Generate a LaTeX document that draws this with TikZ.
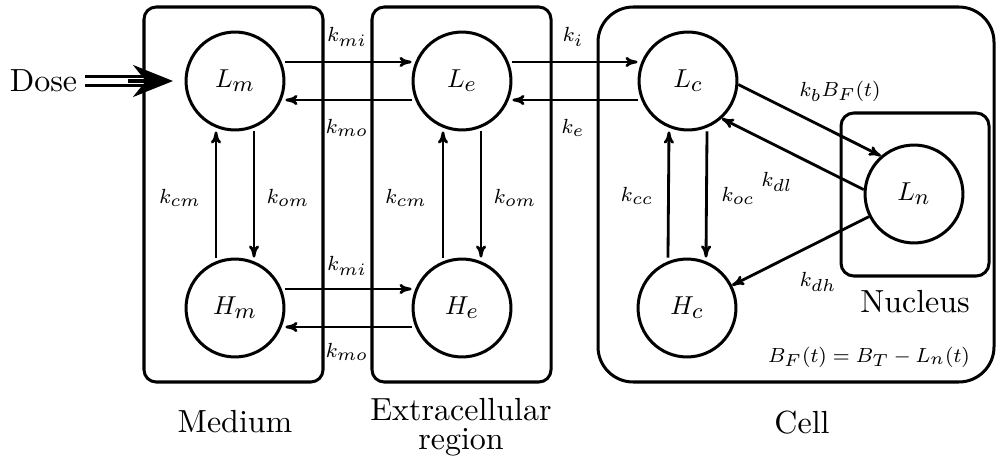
\RequirePackage{fix-cm}
\documentclass[tikz,border=0pt]{standalone}
\usepackage{graphicx}
\usetikzlibrary{arrows.meta}
\DeclareMathSizes{8}{8}{6.8}{5}
\DeclareMathSizes{10}{10}{8.6}{6}
\newcommand\ratelabel[1]{\scalebox{0.8}{\fontsize{8}{9}\selectfont$#1$}}
\newcommand\complabel[1]{\scalebox{0.81}{\fontsize{10}{12}\selectfont$#1$}}
\begin{document}
\begin{tikzpicture}[x=0.3125pt,y=-0.3125pt,
  comp/.style={circle,draw,line width=0.94pt,minimum size=30.6pt,inner sep=0pt},
  region/.style={draw,line width=0.94pt,rounded corners=3.8pt},
  flow/.style={line width=0.88pt,-{To[length=3.8pt,width=3.2pt]}},
  rate/.style={inner sep=0pt},
  title/.style={font=\fontsize{10}{9.1}\selectfont,inner sep=0pt,align=center}]
\useasboundingbox (0,0) rectangle (997,458);
\def\off{5.94pt}
% regions
\draw[region] (144,7) rectangle (323,382);
\draw[region] (372,7) rectangle (551,382);
\draw[region,rounded corners=11pt] (598,7) rectangle (994,382);
\draw[region,rounded corners=4pt] (841,113) rectangle (989,276);
% compartments
\node[comp] (Lm) at (235,81) {\complabel{L_m}};
\node[comp] (Le) at (462,81) {\complabel{L_e}};
\node[comp] (Lc) at (688,81) {\complabel{L_c}};
\node[comp] (Hm) at (235,308) {\complabel{H_m}};
\node[comp] (He) at (462,308) {\complabel{H_e}};
\node[comp] (Hc) at (687,308) {\complabel{H_c}};
\node[comp] (Ln) at (914,194) {\complabel{L_n}};
% horizontal flows
\draw[flow] ([yshift=\off]Lm.east) -- ([yshift=\off]Le.west);
\draw[flow] ([yshift=-\off]Le.west) -- ([yshift=-\off]Lm.east);
\draw[flow] ([yshift=\off]Le.east) -- ([yshift=\off]Lc.west);
\draw[flow] ([yshift=-\off]Lc.west) -- ([yshift=-\off]Le.east);
\draw[flow] ([yshift=\off]Hm.east) -- ([yshift=\off]He.west);
\draw[flow] ([yshift=-\off]He.west) -- ([yshift=-\off]Hm.east);
% vertical flows
\draw[flow] ([xshift=-\off]Hm.north) -- ([xshift=-\off]Lm.south);
\draw[flow] ([xshift=\off]Lm.south) -- ([xshift=\off]Hm.north);
\draw[flow] ([xshift=-\off]He.north) -- ([xshift=-\off]Le.south);
\draw[flow] ([xshift=\off]Le.south) -- ([xshift=\off]He.north);
\draw[flow] ([xshift=-\off]Hc.north) -- ([xshift=-\off]Lc.south);
\draw[flow] ([xshift=\off]Lc.south) -- ([xshift=\off]Hc.north);
% nucleus flows
\draw[flow] (Lc.-4.3) -- (Ln.131.1);
\draw[flow] (Ln.175.7) -- (Lc.-48.9);
\draw[flow] (Ln) -- (Hc);
% rate labels
\node[rate] (kmi1) at (347,37) {\ratelabel{k_{mi}}};
\node[rate] (kmo1) at (347,128) {\ratelabel{k_{mo}}};
\node[rate] (ki) at (573,37) {\ratelabel{k_i}};
\node[rate] (ke) at (573,128) {\ratelabel{k_e}};
\node[rate] (kmi2) at (347,266) {\ratelabel{k_{mi}}};
\node[rate] (kmo2) at (347,352) {\ratelabel{k_{mo}}};
\node[rate] (kcm1) at (180,198) {\ratelabel{k_{cm}}};
\node[rate] (kom1) at (288,198) {\ratelabel{k_{om}}};
\node[rate] (kcm2) at (406,198) {\ratelabel{k_{cm}}};
\node[rate] (kom2) at (515,198) {\ratelabel{k_{om}}};
\node[rate] (kcc) at (637,196) {\ratelabel{k_{cc}}};
\node[rate] (koc) at (738,196) {\ratelabel{k_{oc}}};
\node[rate] (kdl) at (777,182) {\ratelabel{k_{dl}}};
\node[rate] (kb) at (840,91) {\ratelabel{k_bB_F(t)}};
\node[rate] (kdh) at (818,282) {\ratelabel{k_{dh}}};
\node[rate] (bf) at (869,357) {\ratelabel{B_F(t)=B_T-L_n(t)}};
% titles
\node[title] (dose) at (43.5,81) {Dose};
\node[title,anchor=base] (med) at (235,432) {Medium};
\node[title,anchor=north] (ext) at (461,397.5) {Extracellular\\region};
\node[title,anchor=base] (nuc) at (915,312) {Nucleus};
\node[title,anchor=base] (cell) at (802,433) {Cell};
% dose arrow
\coordinate (dosetip) at (173,81);
\draw[double,line width=1.05pt,double distance=1.7pt,shorten <=2.4pt,shorten >=8pt] (dose.east) -- (dosetip);
\draw[line width=1pt,-{Stealth[length=12.5pt,width=10pt,inset=4pt]}] ([xshift=-14pt]dosetip) -- (dosetip);
\end{tikzpicture}
\end{document}
